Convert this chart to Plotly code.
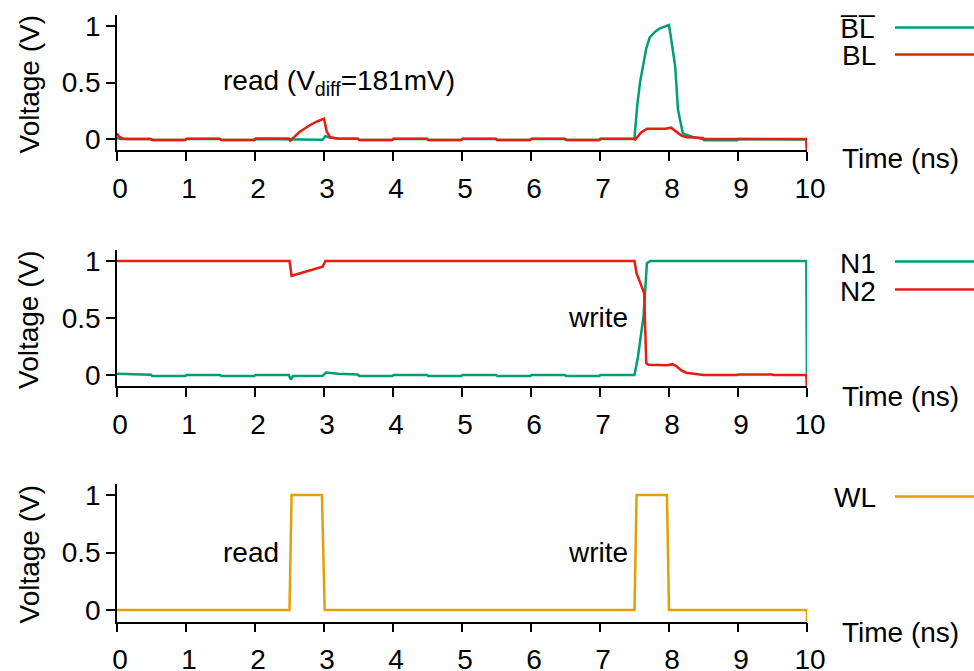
import plotly.graph_objects as go

# ---------------- data ----------------
# Panel 1: bit lines
blb_t = [0, 0.05, 0.15, 0.49, 0.51, 0.99, 1.01, 1.49, 1.51, 1.99, 2.01, 2.49, 2.51, 2.98, 3.02, 3.08, 3.2, 3.49, 3.51,
         3.99, 4.01, 4.49, 4.51, 4.99, 5.01, 5.49, 5.51, 5.99, 6.01, 6.49, 6.51, 6.99, 7.01, 7.49, 7.5, 7.54, 7.58,
         7.62, 7.67, 7.72, 7.8, 7.87, 7.95, 8.0, 8.04, 8.09, 8.13, 8.2, 8.33, 8.49, 8.51, 8.99, 9.01, 9.49, 9.51, 9.99, 10.0]
blb_v = [0.01, 0.0, 0.0, 0.0, -0.008, -0.008, 0.0, 0.0, -0.008, -0.008, 0.0, 0.0, -0.006, -0.006, 0.027, 0.012, 0.005, 0.003, -0.008,
         -0.008, 0.0, 0.0, -0.008, -0.008, 0.0, 0.0, -0.008, -0.008, 0.0, 0.0, -0.008, -0.008, 0.0, 0.0, 0.01, 0.3, 0.5,
         0.64, 0.8, 0.9, 0.95, 0.98, 0.995, 1.01, 0.85, 0.64, 0.26, 0.05, 0.02, 0.0, -0.01, -0.01, 0.0, 0.0, -0.005, -0.005, -0.1]

bl_t = [0, 0.03, 0.08, 0.15, 0.49, 0.51, 0.99, 1.01, 1.49, 1.51, 1.99, 2.01, 2.49, 2.51, 2.65, 2.8, 2.9, 3.0, 3.04, 3.09, 3.2,
        3.49, 3.51, 3.99, 4.01, 4.49, 4.51, 4.99, 5.01, 5.49, 5.51, 5.99, 6.01, 6.49, 6.51, 6.99, 7.01, 7.49, 7.51,
        7.6, 7.68, 7.95, 8.03, 8.1, 8.18, 8.26, 8.49, 8.51, 8.99, 9.01, 9.49, 9.51, 9.99, 10.0]
bl_v = [0.05, 0.02, 0.005, 0.0, 0.0, -0.008, -0.008, 0.003, 0.003, -0.008, -0.008, 0.004, 0.004, -0.015, 0.065, 0.124, 0.155, 0.18, 0.065, 0.015, 0.005,
        0.003, -0.008, -0.008, 0.003, 0.003, -0.008, -0.008, 0.003, 0.003, -0.008, -0.008, 0.003, 0.003, -0.008, -0.008, 0.003, 0.003, -0.005,
        0.06, 0.09, 0.09, 0.1, 0.07, 0.03, 0.015, 0.01, 0.0, 0.0, 0.006, 0.006, 0.0, 0.0, -0.1]

# Panel 2: storage nodes
n1_t = [0, 0.3, 0.49, 0.51, 0.99, 1.01, 1.49, 1.51, 1.99, 2.01, 2.49, 2.52, 2.55, 2.98, 3.03, 3.2, 3.49, 3.51, 3.99, 4.01,
        4.49, 4.51, 4.99, 5.01, 5.49, 5.51, 5.99, 6.01, 6.49, 6.51, 6.99, 7.01, 7.49, 7.5, 7.55, 7.63, 7.68, 7.73,
        8.0, 9.0, 9.99, 10.0]
n1_v = [0.012, 0.005, 0.003, -0.008, -0.008, 0.0, 0.0, -0.008, -0.008, 0.0, 0.0, -0.04, -0.008, -0.006, 0.022, 0.01, 0.005, -0.008, -0.008, 0.0,
        0.0, -0.008, -0.008, 0.0, 0.0, -0.008, -0.008, 0.0, 0.0, -0.008, -0.008, 0.0, 0.0, 0.0, 0.16, 0.51, 0.98, 1.0,
        1.0, 1.0, 1.0, -0.1]

n2_t = [0, 2.5, 2.53, 2.98, 3.02, 7.5, 7.53, 7.6, 7.64, 7.67, 7.7, 7.98, 8.05, 8.1, 8.18, 8.25, 8.5, 8.99, 9.01, 9.49, 9.51, 9.99, 10.0]
n2_v = [1.0, 1.0, 0.87, 0.95, 1.0, 1.0, 0.89, 0.77, 0.72, 0.105, 0.09, 0.085, 0.095, 0.08, 0.04, 0.02, 0.0, 0.0, 0.005, 0.005, 0.0, 0.0, -0.1]

# Panel 3: word line
wl_t = [0, 2.5, 2.53, 2.97, 3.01, 7.5, 7.53, 7.97, 8.0, 10.0, 10.0]
wl_v = [0, 0, 1, 1, 0, 0, 1, 1, 0, 0, -0.1]

x_ticks = [0, 1, 2, 3, 4, 5, 6, 7, 8, 9, 10]
y_ticks = [0, 0.5, 1]
y_tick_labels = ["0", "0.5", "1"]

GREEN = "#009e73"
RED = "#e51e10"
ORANGE = "#e69f00"
FONT = "Liberation Sans, Arial, sans-serif"
FS = 28

W, H = 974, 671
L_PX, R_PX = 117, 807
# pixel extents of the three plot areas (top, bottom)
panels_px = [(14.7, 150.3), (249.6, 386.4), (483.5, 621.5)]

fig = go.Figure()
series = [
    (1, blb_t, blb_v, GREEN), (1, bl_t, bl_v, RED),
    (2, n1_t, n1_v, GREEN), (2, n2_t, n2_v, RED),
    (3, wl_t, wl_v, ORANGE),
]
for k, t, v, c in series:
    fig.add_trace(go.Scatter(x=t, y=v, mode="lines", line=dict(color=c, width=2.5),
                             xaxis="x" if k == 1 else f"x{k}", yaxis="y" if k == 1 else f"y{k}",
                             showlegend=False, hoverinfo="skip"))

layout = dict(width=W, height=H, margin=dict(l=L_PX, r=W - R_PX, t=0, b=0),
              plot_bgcolor="white", paper_bgcolor="white",
              font=dict(family=FONT, size=FS, color="black"), showlegend=False)

for i, (top, bot) in enumerate(panels_px, start=1):
    xa = "xaxis" if i == 1 else f"xaxis{i}"
    ya = "yaxis" if i == 1 else f"yaxis{i}"
    layout[xa] = dict(domain=[0, 1], range=[0, 10], anchor="y" if i == 1 else f"y{i}",
                      tickvals=x_ticks, ticks="outside", ticklen=9, tickwidth=1.5, tickcolor="black",
                      showline=True, linecolor="black", linewidth=1.5, showgrid=False, zeroline=False,
                      tickfont=dict(size=FS), automargin=False, ticklabelstandoff=3, ticklabelshift=3)
    layout[ya] = dict(domain=[1 - bot / H, 1 - top / H], range=[-0.1, 1.1], anchor="x" if i == 1 else f"x{i}",
                      tickvals=y_ticks, ticktext=y_tick_labels, ticks="outside", ticklen=9, tickwidth=1.5,
                      tickcolor="black", showline=True, linecolor="black", linewidth=1.5, showgrid=False,
                      zeroline=False, tickfont=dict(size=FS), automargin=False)
fig.update_layout(**layout)

def px_x(px):
    return (px - L_PX) / (R_PX - L_PX)

def px_y(py):
    return 1 - py / H

annotations = []
shapes = []
# y axis titles
for top, bot in panels_px:
    annotations.append(dict(text="Voltage (V)", xref="paper", yref="paper", x=px_x(29),
                            y=px_y((top + bot) / 2 + 2), textangle=-90, xanchor="center", yanchor="middle",
                            showarrow=False, font=dict(size=FS)))
# legends (text right aligned, then a line sample)
legend_items = [("B\u0305L\u0305", 29, GREEN), ("BL", 56, RED),
                ("N1", 263, GREEN), ("N2", 291, RED),
                ("WL", 498, ORANGE)]
for text, py, col in legend_items:
    annotations.append(dict(text=text, xref="paper", yref="paper", x=px_x(878), y=px_y(py),
                            xanchor="right", yanchor="middle", showarrow=False, font=dict(size=FS)))
    shapes.append(dict(type="line", xref="paper", yref="paper", x0=px_x(895), x1=px_x(980),
                       y0=px_y(py - 1.5), y1=px_y(py - 1.5), line=dict(color=col, width=2.5)))

# axis labels "Time (ns)"
for py in [158, 396, 632]:
    annotations.append(dict(text="Time (ns)", xref="paper", yref="paper", x=px_x(840), y=px_y(py),
                            xanchor="left", yanchor="middle", showarrow=False, font=dict(size=FS)))

# in-plot labels
annotations.append(dict(text="read (V<sub>diff</sub>=181mV)", xref="x", yref="y", x=1.5, y=0.5,
                        xanchor="left", yanchor="middle", showarrow=False, font=dict(size=FS)))
annotations.append(dict(text="write", xref="x2", yref="y2", x=6.5, y=0.5,
                        xanchor="left", yanchor="middle", showarrow=False, font=dict(size=FS)))
annotations.append(dict(text="read", xref="x3", yref="y3", x=1.5, y=0.5,
                        xanchor="left", yanchor="middle", showarrow=False, font=dict(size=FS)))
annotations.append(dict(text="write", xref="x3", yref="y3", x=6.5, y=0.5,
                        xanchor="left", yanchor="middle", showarrow=False, font=dict(size=FS)))

fig.update_layout(annotations=annotations, shapes=shapes)
fig.write_html("out.html")
